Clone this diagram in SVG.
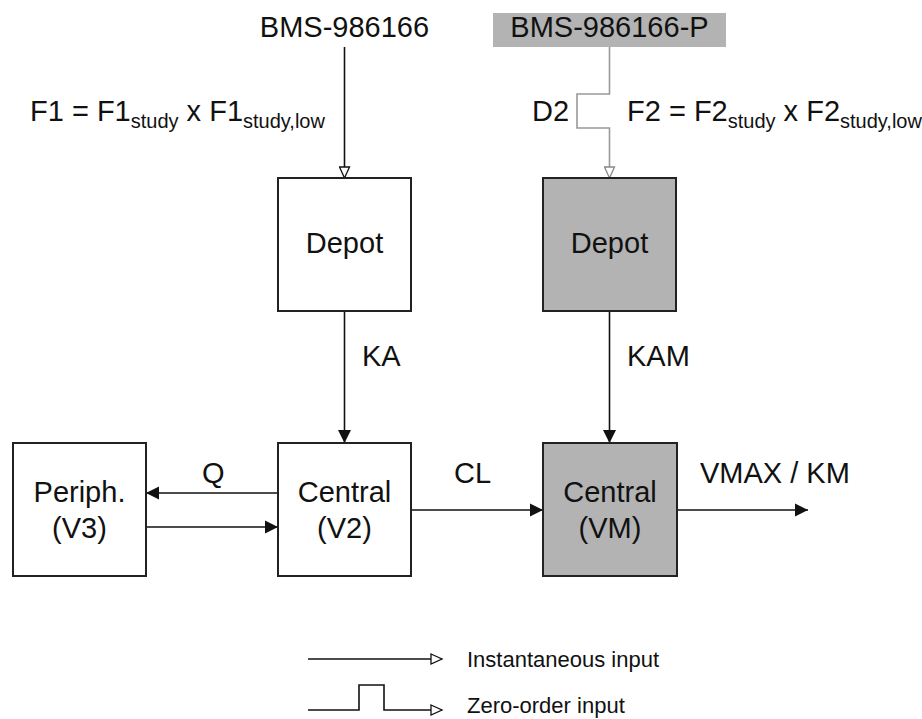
<svg xmlns="http://www.w3.org/2000/svg" width="922" height="719" viewBox="0 0 922 719">
<style>
text{font-family:"Liberation Sans",Arial,sans-serif;font-size:29px;fill:#111}
.c{text-anchor:middle}
.sub{font-size:20px}
.leg{font-size:22px}
.box{stroke:#222;stroke-width:2;fill:#fff}
.gbox{stroke:#222;stroke-width:2;fill:#b3b3b3}
.ln{stroke:#111;stroke-width:1.6;fill:none}
.gl{stroke:#999;stroke-width:1.6;fill:none}
</style>
<defs>
<marker id="fa" markerWidth="13" markerHeight="14" refX="13" refY="7" orient="auto" markerUnits="userSpaceOnUse"><path d="M0,0.5 L13,7 L0,13.5 Z" fill="#111"/></marker>
<marker id="oa" markerWidth="14" markerHeight="12" refX="12" refY="6" orient="auto" markerUnits="userSpaceOnUse"><path d="M1,1 L12,6 L1,11 Z" fill="#fff" stroke="#111" stroke-width="1.3"/></marker>
<marker id="ga" markerWidth="14" markerHeight="12" refX="12" refY="6" orient="auto" markerUnits="userSpaceOnUse"><path d="M1,1 L12,6 L1,11 Z" fill="#fff" stroke="#888" stroke-width="1.3"/></marker>
</defs>

<g id="connectors">
<line class="ln" x1="344.5" y1="47" x2="344.5" y2="178" marker-end="url(#oa)"/>
<path class="gl" d="M609.5,47 V94 H577 V128 H609.5 V178" marker-end="url(#ga)"/>
<line class="ln" x1="344.5" y1="311" x2="344.5" y2="443" marker-end="url(#fa)"/>
<line class="ln" x1="609.5" y1="311" x2="609.5" y2="443" marker-end="url(#fa)"/>
<line class="ln" x1="278" y1="493" x2="146" y2="493" marker-end="url(#fa)"/>
<line class="ln" x1="146" y1="527" x2="278" y2="527" marker-end="url(#fa)"/>
<line class="ln" x1="411" y1="510" x2="543" y2="510" marker-end="url(#fa)"/>
<line class="ln" x1="677" y1="510" x2="808" y2="510" marker-end="url(#fa)"/>
<text x="362" y="366">KA</text>
<text x="627" y="366">KAM</text>
<text x="202" y="483">Q</text>
<text x="454" y="483">CL</text>
<text x="700" y="483">VMAX / KM</text>
<text x="30" y="121">F1 = F1<tspan class="sub" dy="7">study</tspan><tspan dy="-7"> x F1</tspan><tspan class="sub" dy="7">study,low</tspan></text>
<text x="532" y="121">D2</text>
<text x="627" y="121">F2 = F2<tspan class="sub" dy="7">study</tspan><tspan dy="-7"> x F2</tspan><tspan class="sub" dy="7">study,low</tspan></text>
</g>

<g id="bms">
<text class="c" x="344.5" y="37">BMS-986166</text>
</g>
<g id="bmsp">
<rect x="493" y="13" width="233" height="34" fill="#b3b3b3"/>
<text class="c" x="609.5" y="37">BMS-986166-P</text>
</g>
<g id="depot1">
<rect class="box" x="278" y="178" width="133" height="133"/>
<text class="c" x="344.5" y="253">Depot</text>
</g>
<g id="depot2">
<rect class="gbox" x="543" y="178" width="133" height="133"/>
<text class="c" x="609.5" y="253">Depot</text>
</g>
<g id="periph">
<rect class="box" x="13" y="443" width="133" height="133"/>
<text class="c" x="79.5" y="502">Periph.</text>
<text class="c" x="79.5" y="538">(V3)</text>
</g>
<g id="central2">
<rect class="box" x="278" y="443" width="133" height="133"/>
<text class="c" x="344.5" y="502">Central</text>
<text class="c" x="344.5" y="538">(V2)</text>
</g>
<g id="centralvm">
<rect class="gbox" x="543" y="443" width="134" height="133"/>
<text class="c" x="610" y="502">Central</text>
<text class="c" x="610" y="538">(VM)</text>
</g>

<g id="legend">
<line class="ln" x1="308" y1="659" x2="442" y2="659" marker-end="url(#oa)"/>
<text class="leg" x="467" y="667">Instantaneous input</text>
<path class="ln" d="M308,710 H359 V685 H384 V710 H442" marker-end="url(#oa)"/>
<text class="leg" x="467" y="713">Zero-order input</text>
</g>
</svg>
